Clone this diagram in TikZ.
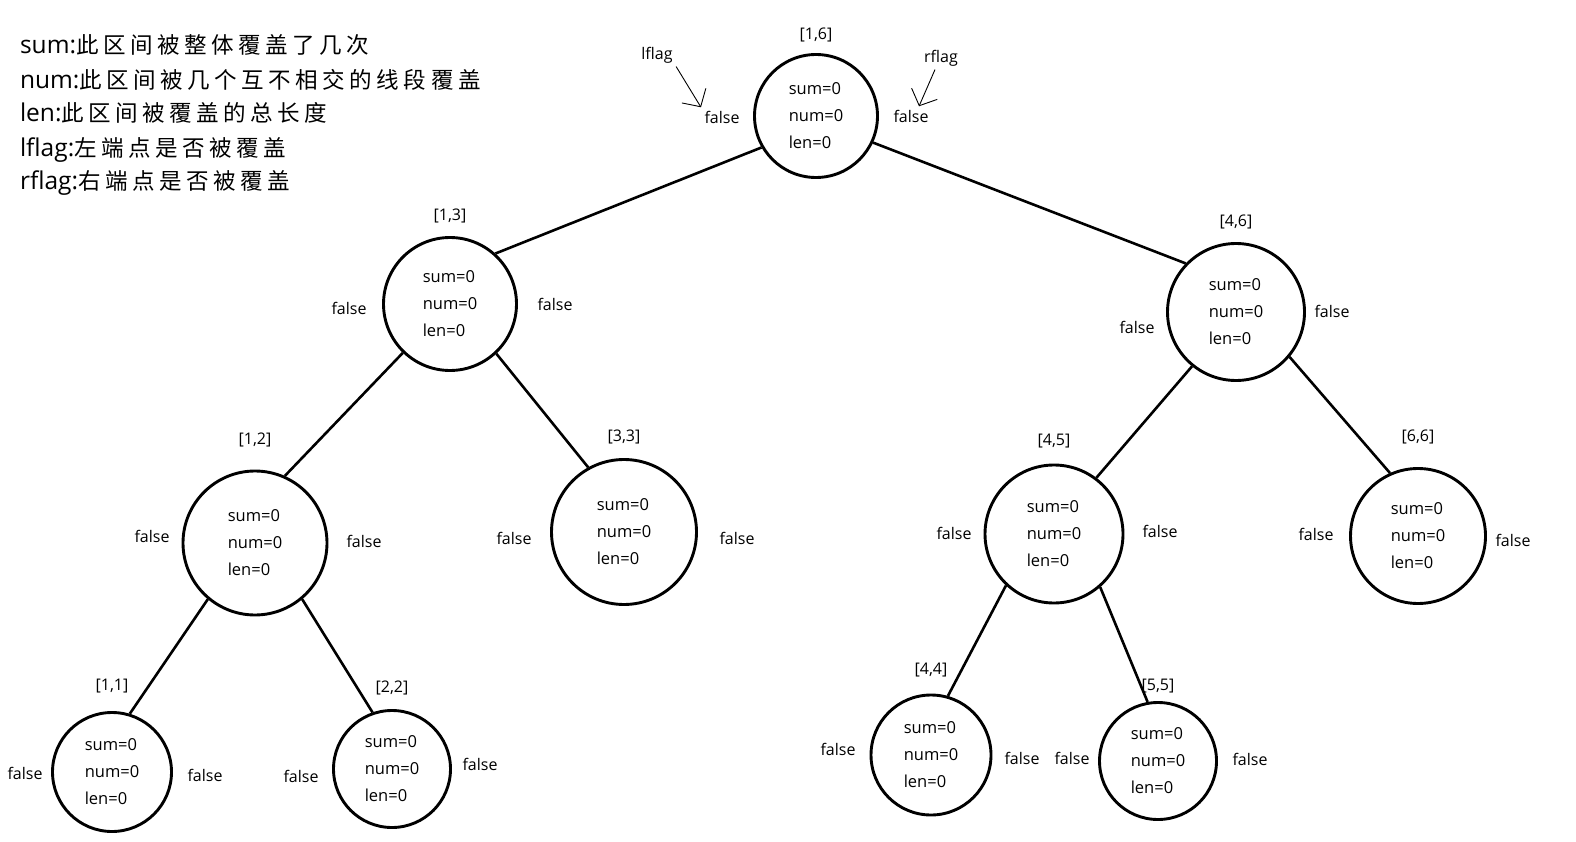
\documentclass[tikz,border=0pt]{standalone}
\usepackage{fontspec}
\setmainfont{Open Sans}
\newfontfamily\cjk[Scale=0.92,LetterSpace=20]{Noto Sans CJK SC}
\usetikzlibrary{positioning,arrows.meta}

\begin{document}
\begin{tikzpicture}[x=1pt,y=-1pt,on grid,>={Straight Barb[length=13pt,width=28pt]},
    seg node/.style={circle,draw,line width=2.9pt,align=left,inner sep=0pt,
      font=\fontsize{16.5}{27}\selectfont},
    flag/.style={font=\fontsize{16}{19}\selectfont},
    span label/.style={font=\fontsize{16}{19}\selectfont},
    legend/.style={anchor=west,font=\fontsize{24.5}{28}\selectfont}]

\useasboundingbox (0,0) rectangle (1576,842);

% legend
\node[legend] (sumdef) at (16.5,45) {sum:{\cjk 此区间被整体覆盖了几次}};
\node[legend] (numdef) at (16.5,80) {num:{\cjk 此区间被几个互不相交的线段覆盖}};
\node[legend] (lendef) at (16.5,113) {len:{\cjk 此区间被覆盖的总长度}};
\node[legend] (lflagdef) at (16.5,150) {lflag:{\cjk 左端点是否被覆盖}};
\node[legend] (rflagdef) at (16.5,183) {rflag:{\cjk 右端点是否被覆盖}};

% segment tree
\node[seg node, minimum size=123pt] (16) at (816,116) {sum=0\\num=0\\len=0};
\node[seg node, minimum size=133pt] (13) [below left=188pt and 366pt of 16] {sum=0\\num=0\\len=0};
\node[seg node, minimum size=137pt] (46) [below right=196pt and 420pt of 16] {sum=0\\num=0\\len=0};
\node[seg node, minimum size=144pt] (12) [below left=239pt and 195pt of 13] {sum=0\\num=0\\len=0};
\node[seg node, minimum size=145pt] (33) [below right=228pt and 174pt of 13] {sum=0\\num=0\\len=0};
\node[seg node, minimum size=138pt] (45) [below left=222pt and 182pt of 46] {sum=0\\num=0\\len=0};
\node[seg node, minimum size=135pt] (66) [below right=224pt and 182pt of 46] {sum=0\\num=0\\len=0};
\node[seg node, minimum size=119pt] (11) [below left=229pt and 143pt of 12] {sum=0\\num=0\\len=0};
\node[seg node, minimum size=117pt] (22) [below right=226pt and 137pt of 12] {sum=0\\num=0\\len=0};
\node[seg node, minimum size=120pt] (44) [below left=221pt and 123pt of 45] {sum=0\\num=0\\len=0};
\node[seg node, minimum size=117pt] (55) [below right=227pt and 104pt of 45] {sum=0\\num=0\\len=0};

% intervals
\node[span label] (i16) [above=81pt of 16] {[1,6]};
\node[span label] (i13) [above=88pt of 13] {[1,3]};
\node[span label] (i46) [above=90pt of 46] {[4,6]};
\node[span label] (i12) [above=103pt of 12] {[1,2]};
\node[span label] (i33) [above=95pt of 33] {[3,3]};
\node[span label] (i45) [above=93pt of 45] {[4,5]};
\node[span label] (i66) [above=99pt of 66] {[6,6]};
\node[span label] (i11) [above=86pt of 11] {[1,1]};
\node[span label] (i22) [above=81pt of 22] {[2,2]};
\node[span label] (i44) [above=85pt of 44] {[4,4]};
\node[span label] (i55) [above=75pt of 55] {[5,5]};

% lflag / rflag
\node[flag] (l16) [below left=1pt and 94pt of 16] {false};
\node[flag] (r16) [right=95pt of 16] {false};
\node[flag] (l13) [below left=4pt and 101pt of 13] {false};
\node[flag] (r13) [right=105pt of 13] {false};
\node[flag] (l46) [below left=15pt and 99pt of 46] {false};
\node[flag] (r46) [above right=1pt and 96pt of 46] {false};
\node[flag] (l12) [above left=7pt and 103pt of 12] {false};
\node[flag] (r12) [above right=2pt and 109pt of 12] {false};
\node[flag] (l33) [below left=6pt and 110pt of 33] {false};
\node[flag] (r33) [below right=6pt and 113pt of 33] {false};
\node[flag] (l45) [above left=1pt and 100pt of 45] {false};
\node[flag] (r45) [above right=3pt and 106pt of 45] {false};
\node[flag] (l66) [above left=2pt and 102pt of 66] {false};
\node[flag] (r66) [below right=4pt and 95pt of 66] {false};
\node[flag] (l11) [below left=1pt and 87pt of 11] {false};
\node[flag] (r11) [below right=3pt and 93pt of 11] {false};
\node[flag] (l22) [below left=7pt and 91pt of 22] {false};
\node[flag] (r22) [above right=5pt and 88pt of 22] {false};
\node[flag] (l44) [above left=6pt and 93pt of 44] {false};
\node[flag] (r44) [below right=3pt and 91pt of 44] {false};
\node[flag] (l55) [above left=3pt and 86pt of 55] {false};
\node[flag] (r55) [above right=2pt and 92pt of 55] {false};

\node[flag] (lflag) [above left=62pt and 65pt of l16] {lflag};
\node[flag] (rflag) [above right=58pt and 30pt of r16] {rflag};

\draw[->, line width=0.9pt] (lflag.south east) -- (l16.north west);
\draw[->, line width=0.9pt] ([xshift=-6pt]rflag.south) -- ([xshift=8pt]r16.north);

\path[line width=2.6pt]
(16.210) edge (13.48)
(16.335) edge (46.136)
(13.226) edge (12.66)
(13.313) edge (33.119)
(12.230) edge (11.73)
(12.310) edge (22.109)
(46.231) edge (45.53)
(46.320) edge (66.114)
(45.227) edge (44.74)
(45.311) edge (55.100)
;

\end{tikzpicture}
\end{document}
